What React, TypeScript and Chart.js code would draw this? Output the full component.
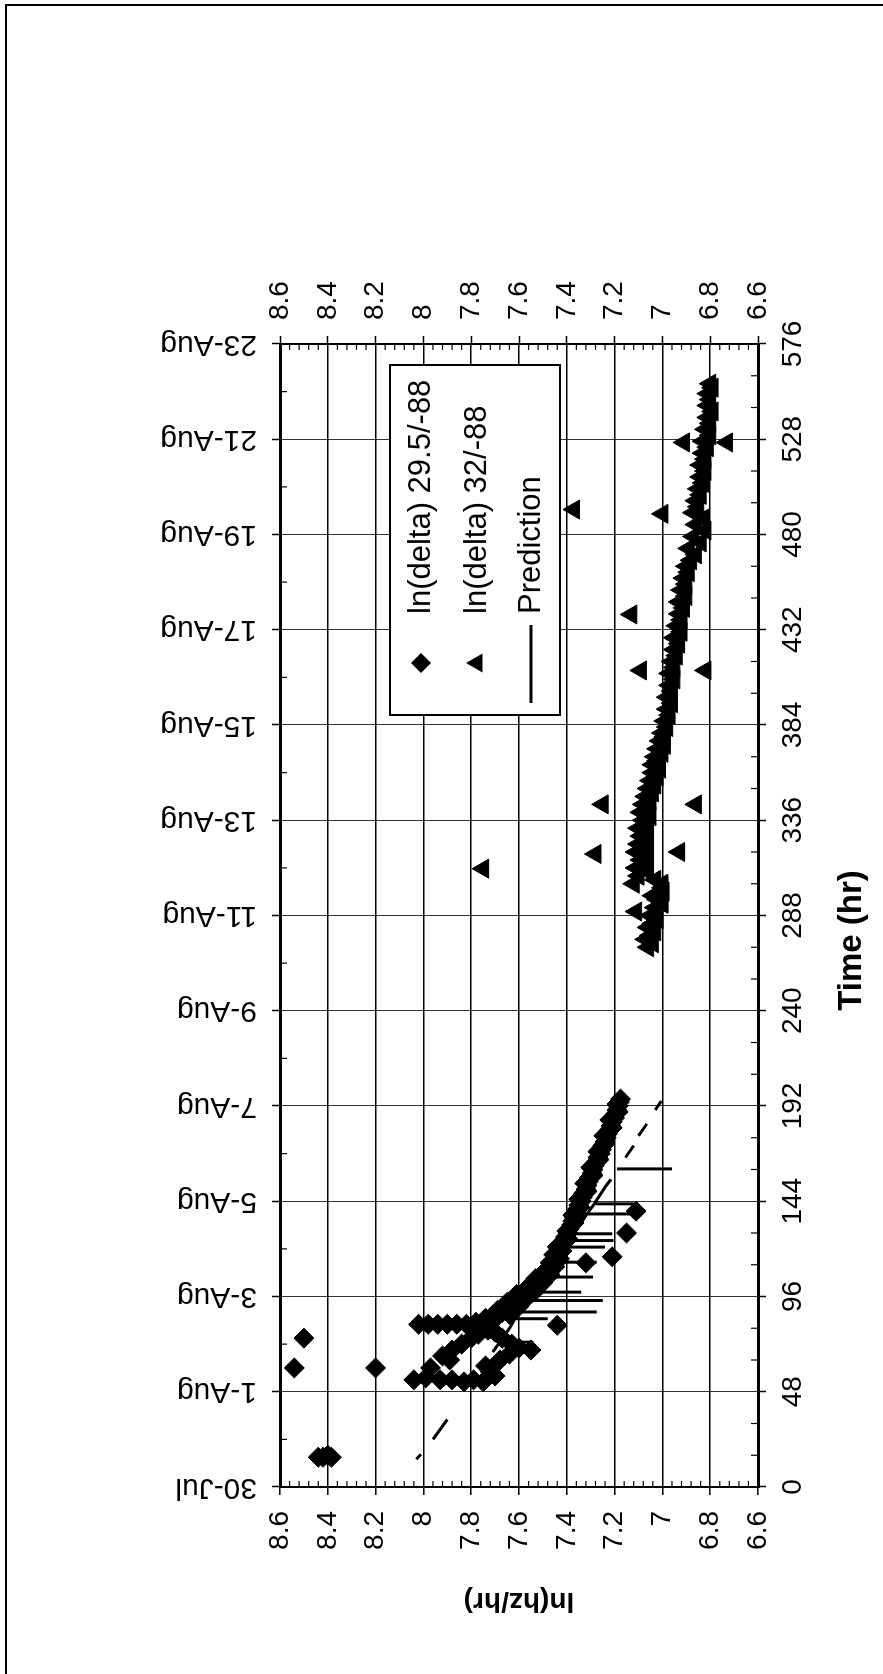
import React, { useEffect, useRef } from 'react';
import { Chart, registerables } from 'chart.js';

Chart.register(...registerables);

// ---------------- data ----------------
const timeTicks = [0, 48, 96, 144, 192, 240, 288, 336, 384, 432, 480, 528, 576];
const dateLabels = ['30-Jul', '1-Aug', '3-Aug', '5-Aug', '7-Aug', '9-Aug', '11-Aug', '13-Aug', '15-Aug', '17-Aug', '19-Aug', '21-Aug', '23-Aug'];
const lnTicks = [6.6, 6.8, 7, 7.2, 7.4, 7.6, 7.8, 8, 8.2, 8.4, 8.6];

const seriesNames = ['ln(delta) 29.5/-88', 'ln(delta) 32/-88', 'Prediction'];
const xTitle = 'Time (hr)';
const yTitle = 'ln(hz/hr)';

const diamondTime = [
  15, 15, 16, 15, 60, 75, 60,
  54, 55, 54, 54, 53, 54, 53, 60, 64,
  82, 82, 82, 82, 82, 82, 83, 83,
  66, 69, 72, 75, 77, 79, 58, 61, 56, 64, 67, 70, 69, 72, 75, 78, 80,
  84, 86, 88, 90, 92, 94, 96, 98, 100, 102, 104, 106, 108, 110, 112, 114, 116, 118, 120,
  122, 124, 126, 128, 130, 132, 134, 136, 138, 140, 142, 144, 146, 148, 150, 152, 154,
  156, 158, 160, 162, 164, 166, 168, 170, 172, 174, 176, 178, 180, 182, 184, 186, 188,
  190, 192, 194, 195.5,
  85, 87, 89, 91, 93, 95, 97, 99, 101, 103, 105, 107, 109, 111, 113, 115, 117, 119, 121,
  125, 129, 133, 137, 141, 145, 149, 153, 157, 161, 165, 169, 173, 177, 181, 185, 189, 193,
  139, 128, 116, 113, 81.5,
];
const diamondValue = [
  8.44, 8.42, 8.40, 8.385, 8.54, 8.50, 8.20,
  8.04, 7.99, 7.93, 7.88, 7.83, 7.79, 7.75, 7.97, 7.89,
  8.02, 7.98, 7.94, 7.90, 7.86, 7.82, 7.78, 7.74,
  7.92, 7.88, 7.84, 7.80, 7.77, 7.73, 7.72, 7.74, 7.70, 7.68, 7.64, 7.60, 7.55, 7.63, 7.67, 7.70, 7.72,
  7.72, 7.69, 7.67, 7.64, 7.62, 7.61, 7.58, 7.57, 7.55, 7.53, 7.51, 7.50, 7.48, 7.475, 7.46, 7.455, 7.44, 7.435, 7.43,
  7.42, 7.41, 7.405, 7.395, 7.39, 7.38, 7.375, 7.37, 7.36, 7.355, 7.35, 7.34, 7.335, 7.33, 7.32, 7.315, 7.31,
  7.305, 7.295, 7.29, 7.285, 7.275, 7.27, 7.26, 7.255, 7.25, 7.24, 7.235, 7.23, 7.22, 7.215, 7.21, 7.20, 7.195,
  7.19, 7.185, 7.18, 7.175,
  7.74, 7.64, 7.69, 7.60, 7.65, 7.57, 7.61, 7.53, 7.56, 7.50, 7.53, 7.47, 7.49, 7.45, 7.47, 7.43, 7.455, 7.42, 7.44,
  7.395, 7.40, 7.37, 7.375, 7.345, 7.35, 7.315, 7.325, 7.29, 7.30, 7.265, 7.27, 7.24, 7.245, 7.21, 7.22, 7.185, 7.19,
  7.11, 7.15, 7.21, 7.32, 7.44,
];

const triangleTime = [
  311.6, 319, 320, 344, 344, 411.5, 411.5, 439.7, 492.6, 490.4, 526.4, 526.4,
  272, 274, 276, 278, 280, 282, 284, 286, 288, 290, 292, 294, 296, 298, 300, 302, 304, 306, 308, 310,
  312, 314, 316, 318, 320, 322, 324, 326, 328, 330, 332, 334, 336, 338, 340, 342, 344, 346, 348, 350,
  352, 354, 356, 358, 360, 362, 364, 366, 368, 370, 372, 374, 376, 378, 380, 383, 386, 389, 392, 395,
  398, 401, 404, 407, 410, 413, 416, 419, 422, 425, 428, 431, 434, 437, 440, 443, 446, 449, 452, 455,
  458, 461, 464, 467, 470, 473, 476, 479, 482, 485, 488, 491, 494, 497, 500, 503, 506, 509, 512, 515,
  518, 521, 524, 527, 530, 533, 536, 539, 542, 545, 548, 551, 554, 556,
  294, 300, 304,
];
const triangleValue = [
  7.75, 7.28, 6.93, 7.25, 6.86, 7.09, 6.82, 7.13, 7.37, 7.00, 6.91, 6.73,
  7.06, 7.04, 7.07, 7.05, 7.03, 7.06, 7.04, 7.02, 7.05, 7.11, 7.03, 7.00, 7.02, 7.04, 7.01, 7.00, 7.12, 7.03, 7.10, 7.06,
  7.11, 7.07, 7.09, 7.06, 7.11, 7.07, 7.10, 7.06, 7.09, 7.07, 7.10, 7.06, 7.08, 7.05, 7.09, 7.06, 7.08, 7.05, 7.07, 7.04,
  7.06, 7.03, 7.05, 7.02, 7.04, 7.01, 7.04, 7.02, 7.03, 7.00, 7.02, 6.99, 7.01, 6.99, 7.00, 6.98, 6.99, 6.97, 6.98, 6.96,
  6.98, 6.96, 6.97, 6.95, 6.97, 6.95, 6.96, 6.94, 6.95, 6.93, 6.95, 6.92, 6.94, 6.92, 6.93, 6.91, 6.93, 6.90, 6.92, 6.90,
  6.91, 6.89, 6.90, 6.88, 6.86, 6.89, 6.84, 6.87, 6.82, 6.86, 6.83, 6.87, 6.85, 6.86, 6.84, 6.85, 6.83, 6.84, 6.82, 6.84,
  6.82, 6.83, 6.81, 6.83, 6.80, 6.82, 6.80, 6.81, 6.79, 6.81, 6.80, 6.81, 6.79, 6.80,
  7.00, 6.995, 7.00,
];

// null marks a break in the prediction line
const predTime = [
  14, 16.5, 17,
  24, 34, 35,
  68, 73, 73, 73, 80, 84.8, 84.8, 84.8, 88.2, 88.2, 88.2, 94, 94, 94, 98.2, 98.2, 98.2,
  105.8, 105.8, 105.8, 113.3, 113.3, 113.3, 120.9, 120.9, 120.9, 124.2, 124.2, 124.2,
  127.6, 127.6, 127.6, 137.6, 137.6, 137.6, 142.7, 142.7, 142.7, 152, 155, 156,
  160.3, 160.3, 160.3, 161,
  166, 172, 173,
  177, 183, 184,
  190, 194.5,
];
const predValue = [
  8.03, 8.01, null,
  7.96, 7.90, null,
  7.71, 7.68, 7.54, 7.68, 7.64, 7.617, 7.48, 7.617, 7.60, 7.275, 7.60, 7.565, 7.25, 7.565, 7.54, 7.34, 7.54,
  7.50, 7.29, 7.50, 7.455, 7.275, 7.455, 7.41, 7.24, 7.41, 7.39, 7.205, 7.39,
  7.37, 7.21, 7.37, 7.315, 7.136, 7.315, 7.285, 7.12, 7.285, 7.235, 7.215, null,
  7.19, 6.96, 7.19, null,
  7.155, 7.12, null,
  7.10, 7.065, null,
  7.03, 7.005,
];

// ---------------- layout ----------------
const CW = 1674; // landscape canvas width (becomes page height after rotation)
const CH = 883;  // landscape canvas height (becomes page width)
const AREA = { left: 187, right: 1330, top: 280, bottom: 758 };
const FONT = "'Liberation Sans', Arial, Helvetica, sans-serif";
const LEGEND = { x1: 959, x2: 1309, y1: 390, y2: 560, rows: [421, 477, 531], markerX: 1011, lineX1: 971, lineX2: 1049, textX: 1060 };
const XTITLE = { dx: -25, y: 852, size: 33 };

const fmtLn = (v: number) => String(Math.round(v * 10) / 10);

const minorTicksPlugin = {
  id: 'minorTicks',
  afterDraw(chart: any) {
    const { ctx, chartArea: a, scales } = chart;
    ctx.save();
    ctx.strokeStyle = '#000';
    ctx.lineWidth = 1.2;
    const line = (x1: number, y1: number, x2: number, y2: number) => {
      ctx.beginPath();
      ctx.moveTo(x1, y1);
      ctx.lineTo(x2, y2);
      ctx.stroke();
    };
    const step = timeTicks[1] - timeTicks[0];
    for (let i = 0; i < timeTicks.length - 1; i++) {
      const t0 = timeTicks[i];
      [step / 3, (2 * step) / 3].forEach((d) => {
        const x = scales.x.getPixelForValue(t0 + d);
        line(x, a.bottom, x, a.bottom - 7);
      });
      const xm = scales.x.getPixelForValue(t0 + step / 2);
      line(xm, a.top, xm, a.top + 7);
    }
    for (let i = 0; i < lnTicks.length - 1; i++) {
      const d = (lnTicks[i + 1] - lnTicks[i]) / 5;
      for (let k = 1; k < 5; k++) {
        const y = scales.y.getPixelForValue(lnTicks[i] + k * d);
        line(a.left, y, a.left + 6, y);
        line(a.right, y, a.right - 6, y);
      }
    }
    ctx.restore();
  },
};

const xTitlePlugin = {
  id: 'xTitle',
  afterDraw(chart: any) {
    const { ctx, chartArea: a } = chart;
    ctx.save();
    ctx.fillStyle = '#000';
    ctx.font = `bold ${XTITLE.size}px ${FONT}`;
    ctx.textAlign = 'center';
    ctx.textBaseline = 'middle';
    ctx.fillText(xTitle, (a.left + a.right) / 2 + XTITLE.dx, XTITLE.y);
    ctx.restore();
  },
};

const legendPlugin = {
  id: 'boxLegend',
  afterDraw(chart: any) {
    const { ctx } = chart;
    const L = LEGEND;
    ctx.save();
    ctx.fillStyle = '#fff';
    ctx.fillRect(L.x1, L.y1, L.x2 - L.x1, L.y2 - L.y1);
    ctx.strokeStyle = '#000';
    ctx.lineWidth = 2;
    ctx.strokeRect(L.x1, L.y1, L.x2 - L.x1, L.y2 - L.y1);
    ctx.fillStyle = '#000';
    const r = 10;
    let y = L.rows[0];
    ctx.beginPath();
    ctx.moveTo(L.markerX, y - r);
    ctx.lineTo(L.markerX + r, y);
    ctx.lineTo(L.markerX, y + r);
    ctx.lineTo(L.markerX - r, y);
    ctx.closePath();
    ctx.fill();
    y = L.rows[1];
    const tr = 11;
    ctx.beginPath();
    ctx.moveTo(L.markerX, y - tr);
    ctx.lineTo(L.markerX + tr * 0.866, y + tr * 0.5);
    ctx.lineTo(L.markerX - tr * 0.866, y + tr * 0.5);
    ctx.closePath();
    ctx.fill();
    y = L.rows[2];
    ctx.lineWidth = 3;
    ctx.beginPath();
    ctx.moveTo(L.lineX1, y);
    ctx.lineTo(L.lineX2, y);
    ctx.stroke();
    ctx.font = `31px ${FONT}`;
    ctx.textBaseline = 'middle';
    ctx.textAlign = 'left';
    seriesNames.forEach((n, i) => ctx.fillText(n, L.textX, L.rows[i]));
    ctx.restore();
  },
};

export default function App() {
  const ref = useRef<HTMLCanvasElement | null>(null);

  useEffect(() => {
    if (!ref.current) return;
    const diamonds = diamondTime.map((t, i) => ({ x: t, y: diamondValue[i] }));
    const triangles = triangleTime.map((t, i) => ({ x: t, y: triangleValue[i] }));
    const pred = predTime.map((t, i) => ({ x: t, y: predValue[i] }));

    const tickFont = { family: FONT, size: 28 };
    const chart = new Chart(ref.current, {
      type: 'scatter',
      data: {
        datasets: [
          {
            label: seriesNames[0],
            data: diamonds,
            pointStyle: 'rectRot',
            pointRadius: 10,
            backgroundColor: '#000',
            borderColor: '#000',
            borderWidth: 1,
          },
          {
            label: seriesNames[1],
            data: triangles,
            pointStyle: 'triangle',
            pointRadius: 11,
            backgroundColor: '#000',
            borderColor: '#000',
            borderWidth: 1,
          },
          {
            label: seriesNames[2],
            data: pred as any,
            showLine: true,
            spanGaps: false,
            pointRadius: 0,
            borderColor: '#000',
            borderWidth: 3,
            backgroundColor: '#000',
          },
        ],
      },
      options: {
        animation: false,
        responsive: false,
        devicePixelRatio: 1,
        layout: { padding: 0 },
        plugins: { legend: { display: false }, tooltip: { enabled: false } },
        scales: {
          x: {
            type: 'linear',
            position: 'bottom',
            min: timeTicks[0],
            max: timeTicks[timeTicks.length - 1],
            afterBuildTicks: (s: any) => { s.ticks = timeTicks.map((v) => ({ value: v })); },
            afterFit: (s: any) => { s.height = CH - AREA.bottom; },
            ticks: { autoSkip: false, maxRotation: 0, minRotation: 0, font: tickFont, color: '#000', padding: 10 },
            grid: { color: '#333', lineWidth: 1, tickLength: 8, tickColor: '#000', tickWidth: 1.5 },
            border: { color: '#000', width: 3 },
            title: { display: false, text: xTitle },
          },
          x2: {
            type: 'linear',
            position: 'top',
            min: timeTicks[0],
            max: timeTicks[timeTicks.length - 1],
            afterBuildTicks: (s: any) => { s.ticks = timeTicks.map((v) => ({ value: v })); },
            afterFit: (s: any) => { s.height = AREA.top; },
            ticks: {
              autoSkip: false,
              minRotation: 90,
              maxRotation: 90,
              labelOffset: 36,
              font: { family: FONT, size: 30 },
              color: '#000',
              padding: 15,
              callback: (v: any) => dateLabels[timeTicks.indexOf(Number(v))] ?? '',
            },
            grid: { drawOnChartArea: false, tickLength: 8, tickColor: '#000', tickWidth: 1.5 },
            border: { color: '#000', width: 3 },
          },
          y: {
            type: 'linear',
            position: 'left',
            min: lnTicks[0],
            max: lnTicks[lnTicks.length - 1],
            afterBuildTicks: (s: any) => { s.ticks = lnTicks.map((v) => ({ value: v })); },
            afterFit: (s: any) => { s.width = AREA.left; },
            ticks: { font: tickFont, color: '#000', padding: 16, callback: (v: any) => fmtLn(Number(v)) },
            grid: { color: '#000', lineWidth: 1.6, tickLength: 8, tickColor: '#000', tickWidth: 1.5 },
            border: { color: '#000', width: 2 },
            title: { display: true, text: yTitle, color: '#000', font: { family: FONT, size: 28, weight: 'bold' }, padding: { top: 56, bottom: 0 } },
          },
          y2: {
            type: 'linear',
            position: 'right',
            min: lnTicks[0],
            max: lnTicks[lnTicks.length - 1],
            afterBuildTicks: (s: any) => { s.ticks = lnTicks.map((v) => ({ value: v })); },
            afterFit: (s: any) => { s.width = CW - AREA.right; },
            ticks: { font: tickFont, color: '#000', padding: 16, callback: (v: any) => fmtLn(Number(v)) },
            grid: { drawOnChartArea: false, tickLength: 8, tickColor: '#000', tickWidth: 1.5 },
            border: { color: '#000', width: 2 },
          },
        },
      } as any,
      plugins: [minorTicksPlugin, legendPlugin, xTitlePlugin],
    });
    return () => chart.destroy();
  }, []);

  return (
    <div style={{ position: 'absolute', left: 0, top: 0, width: CH, height: CW, overflow: 'hidden', background: '#fff' }}>
      <div style={{ position: 'absolute', left: 5, top: 4, width: CH - 5, height: CW - 4, borderTop: '2px solid #000', borderLeft: '2px solid #000', boxSizing: 'border-box' }} />
      <div
        style={{
          position: 'absolute',
          left: 0,
          top: 0,
          width: CW,
          height: CH,
          transformOrigin: '0 0',
          transform: `translate(0px, ${CW}px) rotate(-90deg)`,
        }}
      >
        <canvas ref={ref} width={CW} height={CH} style={{ display: 'block', width: CW, height: CH }} />
      </div>
    </div>
  );
}
